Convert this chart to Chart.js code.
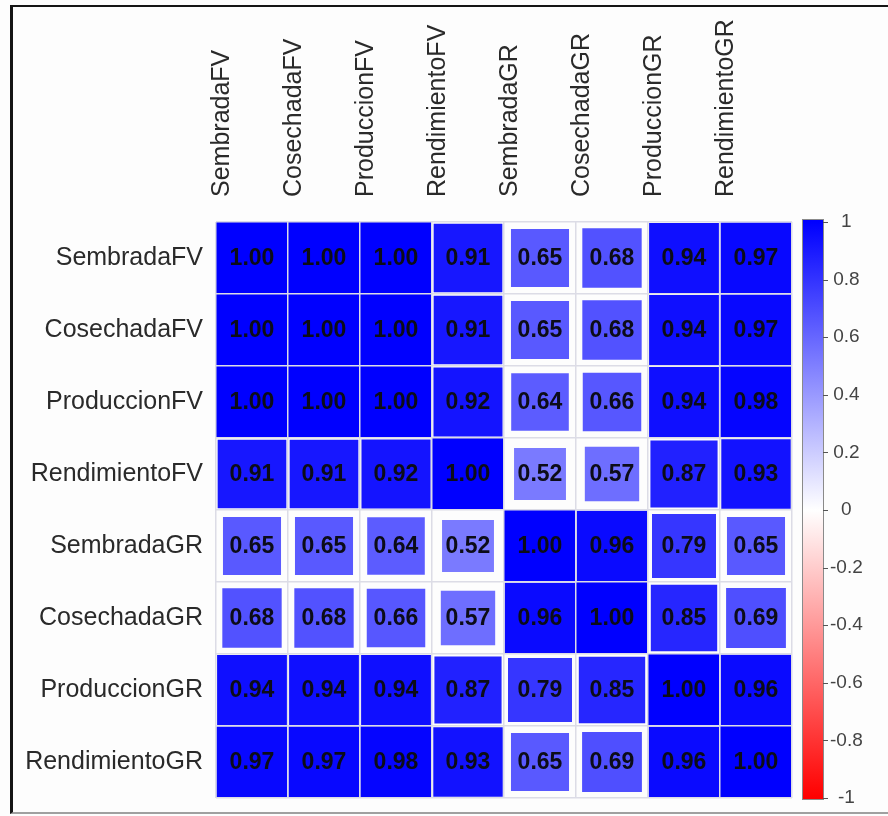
<!DOCTYPE html>
<html>

<head>
    <title>Correlation Matrix</title>
    <script src="https://cdn.jsdelivr.net/npm/chart.js"></script>
    <style>
        body {
            margin: 0;
            background: #fdfdfd;
            overflow: hidden;
        }

        .frame {
            position: absolute;
            left: 10px;
            top: 5px;
            width: 900px;
            height: 805px;
            border-top: 2px solid #151515;
            border-left: 3px solid #151515;
            border-bottom: 2px solid #a0a0a0;
        }

        #corrChart {
            position: absolute;
            left: 0;
            top: 0;
        }
    </style>
</head>

<body>
    <div class="frame"></div>
    <canvas id="corrChart" width="888" height="816"></canvas>

    <script>
        const variables = ['SembradaFV', 'CosechadaFV', 'ProduccionFV', 'RendimientoFV',
            'SembradaGR', 'CosechadaGR', 'ProduccionGR', 'RendimientoGR'];

        // one row of the correlation matrix per variable
        const sembradaFV    = [1.00, 1.00, 1.00, 0.91, 0.65, 0.68, 0.94, 0.97];
        const cosechadaFV   = [1.00, 1.00, 1.00, 0.91, 0.65, 0.68, 0.94, 0.97];
        const produccionFV  = [1.00, 1.00, 1.00, 0.92, 0.64, 0.66, 0.94, 0.98];
        const rendimientoFV = [0.91, 0.91, 0.92, 1.00, 0.52, 0.57, 0.87, 0.93];
        const sembradaGR    = [0.65, 0.65, 0.64, 0.52, 1.00, 0.96, 0.79, 0.65];
        const cosechadaGR   = [0.68, 0.68, 0.66, 0.57, 0.96, 1.00, 0.85, 0.69];
        const produccionGR  = [0.94, 0.94, 0.94, 0.87, 0.79, 0.85, 1.00, 0.96];
        const rendimientoGR = [0.97, 0.97, 0.98, 0.93, 0.65, 0.69, 0.96, 1.00];

        const corrRows = [sembradaFV, cosechadaFV, produccionFV, rendimientoFV,
            sembradaGR, cosechadaGR, produccionGR, rendimientoGR];

        const colorbarTicks = [1, 0.8, 0.6, 0.4, 0.2, 0, -0.2, -0.4, -0.6, -0.8, -1];

        Chart.defaults.font.family = "'Liberation Sans', Arial, sans-serif";

        function corrColor(v) {
            const t = Math.min(1, Math.abs(v));
            const c = Math.round(255 * (1 - t));
            return v >= 0 ? `rgb(${c},${c},255)` : `rgb(255,${c},${c})`;
        }

        // half-diagonal of a square whose area follows |r|
        function squareRadius(c) {
            const area = c.chart.chartArea;
            if (!area || !c.raw) return 0;
            const cell = area.width / variables.length;
            const side = cell * Math.sqrt(Math.abs(c.raw.r));
            return side / Math.SQRT2;
        }

        const points = [];
        corrRows.forEach((row, i) => {
            row.forEach((v, j) => {
                points.push({ x: variables[j], y: variables[i], r: v });
            });
        });

        const valueLabels = {
            id: 'valueLabels',
            afterDatasetsDraw(chart) {
                const ctx = chart.ctx;
                const meta = chart.getDatasetMeta(0);
                ctx.save();
                ctx.font = "bold 23px 'Liberation Sans', Arial, sans-serif";
                ctx.fillStyle = '#0c0c18';
                ctx.textAlign = 'center';
                ctx.textBaseline = 'middle';
                meta.data.forEach((el, k) => {
                    ctx.fillText(points[k].r.toFixed(2), el.x, el.y + 1);
                });
                ctx.restore();
            }
        };

        const colorbar = {
            id: 'colorbar',
            afterDraw(chart) {
                const cb = chart.scales.cb;
                const ctx = chart.ctx;
                const top = cb.getPixelForValue(1);
                const bottom = cb.getPixelForValue(-1);
                const x0 = cb.left + 11;
                const w = 20;
                const grad = ctx.createLinearGradient(0, top, 0, bottom);
                grad.addColorStop(0, corrColor(1));
                grad.addColorStop(0.5, corrColor(0));
                grad.addColorStop(1, corrColor(-1));
                ctx.save();
                ctx.fillStyle = grad;
                ctx.fillRect(x0, top - 2, w, bottom - top + 3);
                ctx.strokeStyle = '#8a8a8a';
                ctx.lineWidth = 1;
                ctx.strokeRect(x0 - 0.5, top - 2.5, w + 1, bottom - top + 4);
                ctx.strokeStyle = '#555';
                colorbarTicks.forEach(t => {
                    const y = Math.round(cb.getPixelForValue(t)) + 0.5;
                    ctx.beginPath();
                    ctx.moveTo(x0 + w, y);
                    ctx.lineTo(x0 + w + 5, y);
                    ctx.stroke();
                });
                ctx.restore();
            }
        };

        new Chart(document.getElementById('corrChart'), {
            type: 'scatter',
            data: {
                datasets: [{
                    data: points,
                    pointStyle: 'rect',
                    borderWidth: 0,
                    backgroundColor: c => corrColor(c.raw ? c.raw.r : 0),
                    pointRadius: squareRadius,
                    pointHoverRadius: squareRadius
                }]
            },
            options: {
                responsive: false,
                animation: false,
                layout: { padding: { left: 0, top: 0, right: 0, bottom: 18 } },
                plugins: {
                    legend: { display: false },
                    tooltip: { enabled: false }
                },
                scales: {
                    x: {
                        type: 'category',
                        labels: variables,
                        position: 'top',
                        offset: true,
                        grid: { offset: true, z: 1, color: '#dcdce6', lineWidth: 1.5, drawTicks: false, tickLength: 0 },
                        border: { display: false },
                        ticks: {
                            autoSkip: false,
                            minRotation: 90,
                            maxRotation: 90,
                            padding: 25,
                            color: '#2a2a2a',
                            font: { size: 25 }
                        },
                        afterFit: s => { s.height = 222; }
                    },
                    y: {
                        type: 'category',
                        labels: variables,
                        position: 'left',
                        offset: true,
                        grid: { offset: true, z: 1, color: '#dcdce6', lineWidth: 1.5, drawTicks: false, tickLength: 0 },
                        border: { display: false },
                        ticks: {
                            autoSkip: false,
                            padding: 13,
                            color: '#2a2a2a',
                            font: { size: 25 }
                        },
                        afterFit: s => {
                            s.width = 216;
                            s.paddingTop = 0;
                            s.paddingBottom = 0;
                        }
                    },
                    cb: {
                        type: 'linear',
                        axis: 'y',
                        position: 'right',
                        min: -1,
                        max: 1,
                        grid: { display: false, drawTicks: false, tickLength: 0 },
                        border: { display: false },
                        ticks: {
                            stepSize: 0.2,
                            padding: 38,
                            crossAlign: 'center',
                            color: '#444',
                            font: { size: 19 },
                            callback: v => String(Math.round(v * 10) / 10)
                        },
                        afterFit: s => {
                            s.width = 96;
                            s.paddingTop = 0;
                            s.paddingBottom = 0;
                        }
                    }
                }
            },
            plugins: [valueLabels, colorbar]
        });
    </script>
</body>

</html>
